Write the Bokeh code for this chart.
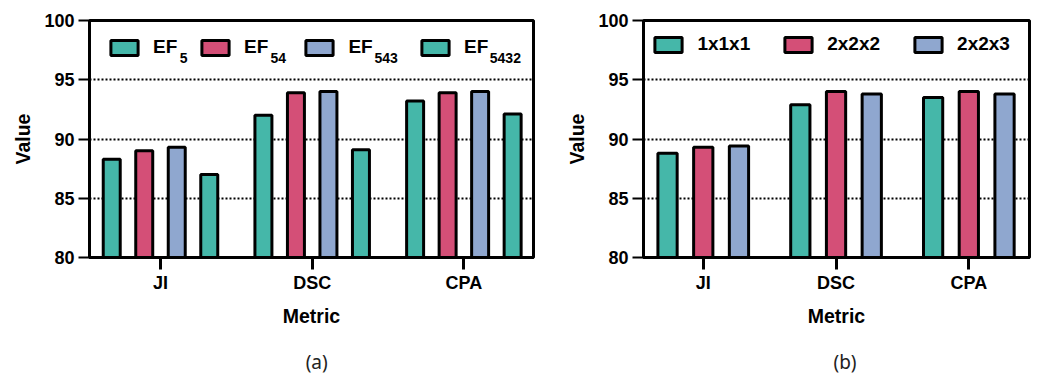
from bokeh.plotting import figure
from bokeh.layouts import row, column
from bokeh.models import (ColumnDataSource, Range1d, FixedTicker, Legend, LegendItem, Label, Div)
from bokeh.embed import file_html
from bokeh.resources import INLINE

# ---- data ----
metrics = ["JI", "DSC", "CPA"]

series_a = ["EF", "EF", "EF", "EF"]
subs_a = ["5", "54", "543", "5432"]
ef5 = [88.3, 92.0, 93.2]
ef54 = [89.0, 93.9, 93.9]
ef543 = [89.3, 94.0, 94.0]
ef5432 = [87.0, 89.1, 92.1]

series_b = ["1x1x1", "2x2x2", "2x2x3"]
b111 = [88.8, 92.9, 93.5]
b222 = [89.3, 94.0, 94.0]
b223 = [89.4, 93.8, 93.8]

tags = ["(a)", "(b)"]

teal = "#45B7A9"
pink = "#D44F77"
blue = "#8FA7CF"

FONT = "Liberation Sans"
H = 340
TOP = 20
BOTTOM = 83


def base_panel(width, border_left, border_right, xr):
    p = figure(width=width, height=H, output_backend="svg", toolbar_location=None,
               x_range=Range1d(*xr), y_range=Range1d(80, 100),
               min_border_left=border_left, min_border_right=border_right,
               min_border_top=TOP, min_border_bottom=BOTTOM)
    p.outline_line_color = "black"
    p.outline_line_width = 3
    p.outline_line_alpha = 1

    p.xgrid.visible = False
    p.ygrid.ticker = FixedTicker(ticks=[85, 90, 95])
    p.ygrid.grid_line_color = "black"
    p.ygrid.grid_line_width = 2
    p.ygrid.grid_line_dash = "2 2"

    p.yaxis.ticker = FixedTicker(ticks=[80, 85, 90, 95, 100])
    p.yaxis.axis_line_width = 3
    p.yaxis.major_tick_line_width = 2
    p.yaxis.major_tick_out = 11
    p.yaxis.major_tick_in = 0
    p.yaxis.minor_tick_line_color = None
    p.yaxis.major_label_text_font = FONT
    p.yaxis.major_label_text_font_style = "bold"
    p.yaxis.major_label_text_font_size = "18px"
    p.yaxis.major_label_text_color = "black"
    p.yaxis.major_label_standoff = 4
    p.yaxis.axis_label = "Value"
    p.yaxis.axis_label_text_font = FONT
    p.yaxis.axis_label_text_font_style = "bold"
    p.yaxis.axis_label_text_font_size = "19.5px"
    p.yaxis.axis_label_text_color = "black"
    p.yaxis.axis_label_standoff = 7

    p.xaxis.ticker = FixedTicker(ticks=list(range(len(metrics))))
    p.xaxis.major_label_overrides = {i: m for i, m in enumerate(metrics)}
    p.xaxis.axis_line_width = 3
    p.xaxis.major_tick_line_width = 3
    p.xaxis.major_tick_out = 12
    p.xaxis.major_tick_in = 0
    p.xaxis.minor_tick_line_color = None
    p.xaxis.major_label_text_font = FONT
    p.xaxis.major_label_text_font_style = "bold"
    p.xaxis.major_label_text_font_size = "18px"
    p.xaxis.major_label_text_color = "black"
    p.xaxis.major_label_standoff = 3
    p.xaxis.axis_label = "Metric"
    p.xaxis.axis_label_text_font = FONT
    p.xaxis.axis_label_text_font_style = "bold"
    p.xaxis.axis_label_text_font_size = "19.5px"
    p.xaxis.axis_label_text_color = "black"
    p.xaxis.axis_label_standoff = 9
    return p


def add_bars(p, values, colors, slot, bar_w):
    n = len(values)
    rends = []
    for i, (vals, col) in enumerate(zip(values, colors)):
        off = (i - (n - 1) / 2) * slot
        src = ColumnDataSource(dict(x=[k + off for k in range(len(metrics))], top=vals))
        r = p.vbar(x="x", top="top", bottom=80, width=bar_w, source=src,
                   fill_color=col, line_color="black", line_width=3)
        rends.append(r)
    return rends


def legend_kw():
    return dict(orientation="horizontal", background_fill_alpha=0, border_line_alpha=0,
                glyph_width=34, glyph_height=19, label_height=19, label_standoff=12,
                padding=0, margin=0,
                label_text_font=FONT, label_text_font_style="bold",
                label_text_font_size="19px", label_text_color="black")


def tag_div(text, width, pad_left):
    html = ('<div style="box-sizing:border-box;width:%dpx;padding-left:%.1fpx;padding-top:12px;'
            'text-align:center;font-family:\'Noto Sans\';font-size:19px;line-height:20px;'
            'color:#222222;">%s</div>' % (width, pad_left, text))
    return Div(text=html, width=width, height=34, margin=0)


# ---- panel (a) ----
pa = base_panel(560, 89, 27, (-0.468, 2.459))
ra = add_bars(pa, [ef5, ef54, ef543, ef5432], [teal, pink, blue, teal], slot=0.2143, bar_w=0.112)
leg_x = [18.1, 109.1, 213.4, 329.1]
sub_x = [90.3, 181.0, 285.0, 400.3]
for r, name, sub, lx, sx in zip(ra, series_a, subs_a, leg_x, sub_x):
    lg = Legend(items=[LegendItem(label=name, renderers=[r])], location=(lx, 199), **legend_kw())
    pa.add_layout(lg)
    pa.add_layout(Label(x=sx, y=199.3, x_units="screen", y_units="screen", text=sub,
                        text_font=FONT, text_font_style="bold", text_font_size="14px",
                        text_color="black", text_baseline="alphabetic"))

# ---- panel (b) ----
pb = base_panel(472, 83, 3, (-0.45, 2.457))
rb = add_bars(pb, [b111, b222, b223], [teal, pink, blue], slot=0.269, bar_w=0.145)
lgb = Legend(items=[LegendItem(label=n, renderers=[r]) for n, r in zip(series_b, rb)],
             location=(8.4, 202), spacing=31, **legend_kw())
pb.add_layout(lgb)

da = tag_div(tags[0], 560, 73.4)
db = tag_div(tags[1], 472, 98.0)

layout = column(row(pa, pb), row(da, db))
open("out.html", "w").write(file_html(layout, INLINE))
